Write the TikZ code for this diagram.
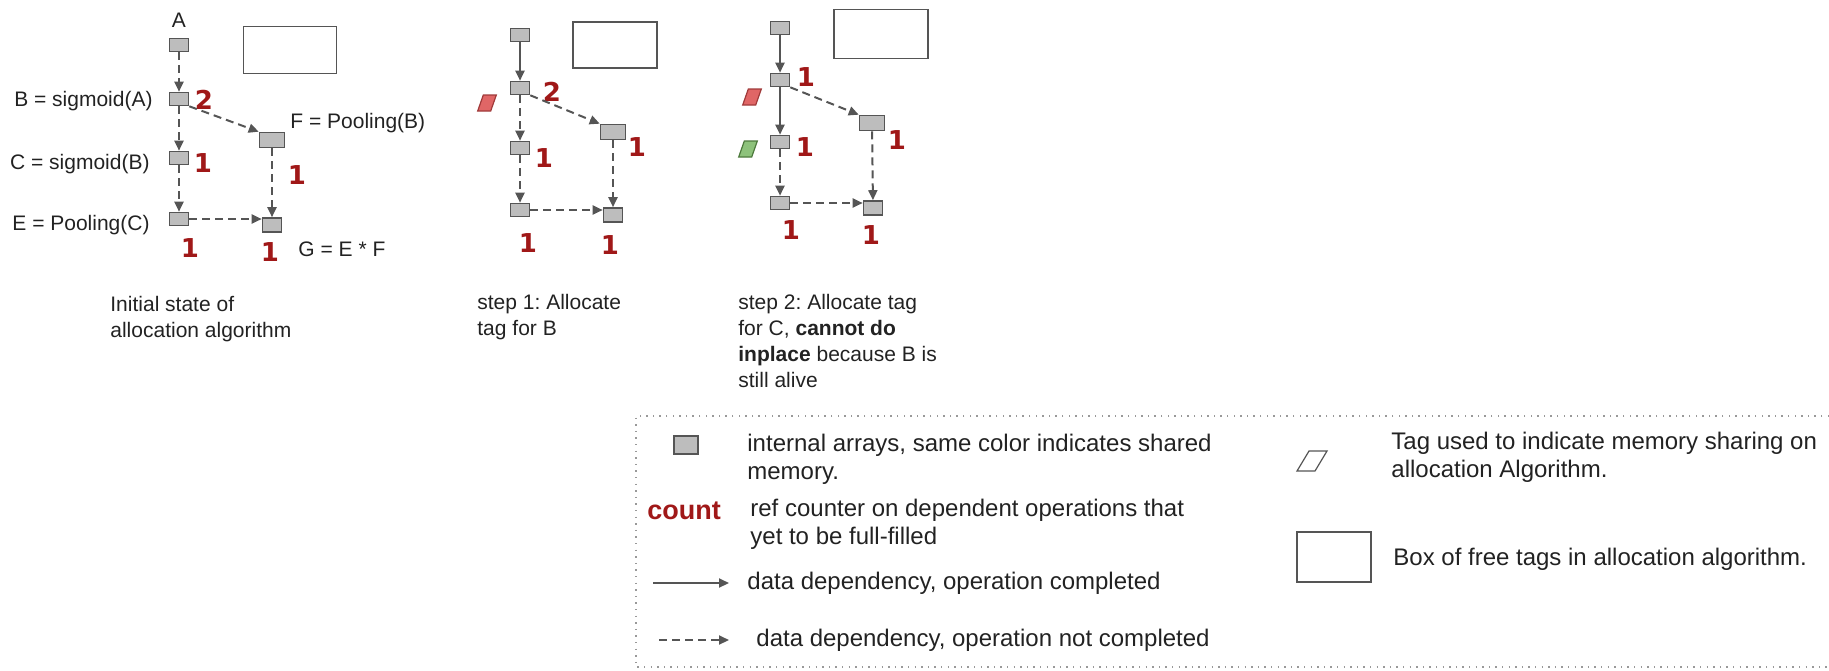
\documentclass[tikz,border=0pt]{standalone}
\usepackage{xcolor}
\usepackage{fontspec}
\setmainfont{Liberation Sans}
\newfontfamily\cntfont{DejaVu Sans}
\usepackage{tikz}
\usetikzlibrary{shapes,arrows,arrows.meta,positioning,calc}
\frenchspacing

\definecolor{arrfill}{HTML}{BDBDBD}
\definecolor{arrline}{HTML}{555555}
\definecolor{cntred}{HTML}{A01818}
\definecolor{tagred}{HTML}{E06666}
\definecolor{tagredline}{HTML}{A03A3A}
\definecolor{taggreen}{HTML}{8DC27B}
\definecolor{taggreenline}{HTML}{4D7A3D}
\definecolor{txt}{HTML}{222222}

\begin{document}
\begin{tikzpicture}[x=0.5pt, y=-0.5pt, >={Triangle[length=5pt,width=4.5pt]}, font=\fontsize{10.5}{13}\selectfont, text=txt]
\tikzset{
arr/.style      = {draw=arrline, fill=arrfill, line width=0.8pt, minimum width=9.5pt, minimum height=6.5pt, inner sep=0pt},
bigarr/.style   = {arr, minimum width=12.5pt, minimum height=7.5pt},
garr/.style     = {arr, minimum width=9.5pt, minimum height=7pt},
cnt/.style      = {text=cntred, font=\cntfont\bfseries\fontsize{13}{13}\selectfont, inner sep=0pt},
freetags/.style = {draw=arrline, line width=0.9pt, inner sep=0pt},
memtag/.style   = {line width=0.6pt, minimum width=6.5pt, minimum height=8pt, inner sep=0pt, xslant=0.35, transform shape},
done/.style     = {->, draw=arrline, line width=1pt},
todo/.style     = {done, dash pattern=on 4pt off 2.5pt},
lbl/.style      = {inner sep=0pt},
caption/.style  = {inner sep=0pt, anchor=north west, align=left},
keytext/.style  = {inner sep=0pt, align=left, font=\fontsize{12}{13.8}\selectfont},
}
    \useasboundingbox (0, 0) rectangle (1829, 670);

    % Initial state nodes
    \node [arr]    (a1) at (179, 45)  {};
    \node [arr]    (b1) at (179, 99)  {};
    \node [arr]    (c1) at (179, 158) {};
    \node [arr]    (e1) at (179, 219) {};
    \node [bigarr] (f1) at (272, 140) {};
    \node [garr]   (g1) at (272, 225) {};
    \node [freetags, minimum width=46.5pt, minimum height=23.5pt] (free1) at (290, 50) {};

    \node [lbl]               at (179, 20)  {A};
    \node [lbl, anchor=east]  at (153, 101) {B = sigmoid(A)};
    \node [lbl, anchor=east]  at (150, 164) {C = sigmoid(B)};
    \node [lbl, anchor=east]  at (150, 225) {E = Pooling(C)};
    \node [lbl, anchor=west]  at (290, 123) {F = Pooling(B)};
    \node [lbl, anchor=west]  at (298, 249) {G = E * F};

    \node [cnt] (cb1) at (204, 100) {2};
    \node [cnt] (cc1) at (203, 163) {1};
    \node [cnt] (cf1) at (297, 175) {1};
    \node [cnt] (ce1) at (190, 248) {1};
    \node [cnt] (cg1) at (270, 252) {1};

    % Initial state edges
    \draw [todo] (a1) -- (b1);
    \draw [todo] (b1) -- (c1);
    \draw [todo] (c1) -- (e1);
    \draw [todo] (b1.south east) -- (f1.north west);
    \draw [todo] (f1) -- (g1);
    \draw [todo] (e1.east) -- (e1.east -| g1.west);

    \node [caption] at (110, 296) {Initial state of\\allocation algorithm};

    % Step 1
    \begin{scope}[shift={(341,-10)}]
    \node [arr]    (a2) at (179, 45)  {};
    \node [arr]    (b2) at (179, 98)  {};
    \node [arr]    (c2) at (179, 158) {};
    \node [arr]    (e2) at (179, 220) {};
    \node [bigarr] (f2) at (272, 142) {};
    \node [garr]   (g2) at (272, 225) {};
    \node [freetags, minimum width=42pt, minimum height=23pt] (free2) at (274, 55) {};
    \node [memtag, draw=tagredline, fill=tagred] (tag2b) at (146, 113) {};

    \node [cnt] (cb2) at (211, 102) {2};
    \node [cnt] (cc2) at (203, 168) {1};
    \node [cnt] (cf2) at (296, 157) {1};
    \node [cnt] (ce2) at (187, 253) {1};
    \node [cnt] (cg2) at (269, 255) {1};

    \draw [done] (a2) -- (b2);
    \draw [todo] (b2) -- (c2);
    \draw [todo] (c2) -- (e2);
    \draw [todo] (b2.south east) -- (f2.north west);
    \draw [todo] (f2) -- (g2);
    \draw [todo] (e2.east) -- (e2.east -| g2.west);

    \node [caption] at (136, 304) {step 1: Allocate\\tag for B};
    \end{scope}

    % Step 2
    \begin{scope}[shift={(600,-17)}]
    \node [arr]    (a3) at (180, 45)  {};
    \node [arr]    (b3) at (180, 97)  {};
    \node [arr]    (c3) at (180, 159) {};
    \node [arr]    (e3) at (180, 220) {};
    \node [bigarr] (f3) at (272, 140) {};
    \node [garr]   (g3) at (273, 225) {};
    \node [freetags, minimum width=47pt, minimum height=24.5pt] (free3) at (281, 51) {};
    \node [memtag, draw=tagredline, fill=tagred]     (tag3b) at (152, 114) {};
    \node [memtag, draw=taggreenline, fill=taggreen] (tag3c) at (148, 166) {};

    \node [cnt] (cb3) at (206, 94)  {1};
    \node [cnt] (cc3) at (205, 164) {1};
    \node [cnt] (cf3) at (297, 157) {1};
    \node [cnt] (ce3) at (191, 247) {1};
    \node [cnt] (cg3) at (271, 252) {1};

    \draw [done] (a3) -- (b3);
    \draw [done] (b3) -- (c3);
    \draw [todo] (c3) -- (e3);
    \draw [todo] (b3.south east) -- (f3.north west);
    \draw [todo] (f3) -- (g3);
    \draw [todo] (e3.east) -- (e3.east -| g3.west);

    \node [caption] at (138, 311) {step 2: Allocate tag\\for C, \textbf{cannot do}\\\textbf{inplace} because B is\\still alive};
    \end{scope}

    % Legend
    \draw [arrline!60, line width=0.7pt, dash pattern=on 0.7pt off 2.6pt] (1829, 416) -- (636, 416) -- (636, 667) -- (1829, 667);

    \node [arr, minimum width=12pt, minimum height=9pt] (key_arr) at (686, 445) {};
    \node [keytext, anchor=north west] (key_arr_txt) at (747, 434) {internal arrays, same color indicates shared\\memory.};

    \node [lbl, anchor=west, text=cntred, font=\bfseries\fontsize{13.5}{14}\selectfont] (key_cnt) at (647, 511) {count};
    \node [keytext, anchor=north west] (key_cnt_txt) at (750, 499) {ref counter on dependent operations that\\yet to be full-filled};

    \coordinate (key_done_from) at (653, 583);
    \coordinate (key_done_to)   at (729, 583);
    \draw [done] (key_done_from) -- (key_done_to);
    \node [keytext, anchor=west] (key_done_txt) at (747, 583) {data dependency, operation completed};

    \coordinate (key_todo_from) at (659, 640);
    \coordinate (key_todo_to)   at (729, 640);
    \draw [todo] (key_todo_from) -- (key_todo_to);
    \node [keytext, anchor=west] (key_todo_txt) at (756, 640) {data dependency, operation not completed};

    \node [memtag, draw=arrline, fill=white, minimum width=9pt, minimum height=10pt, xslant=0.25] (key_tag) at (1312, 461) {};
    \node [keytext, anchor=north west] (key_tag_txt) at (1391, 432) {Tag used to indicate memory sharing on\\allocation Algorithm.};

    \node [freetags, minimum width=37pt, minimum height=25pt] (key_free) at (1334, 557) {};
    \node [keytext, anchor=west] (key_free_txt) at (1393, 559) {Box of free tags in allocation algorithm.};

\end{tikzpicture}
\end{document}
